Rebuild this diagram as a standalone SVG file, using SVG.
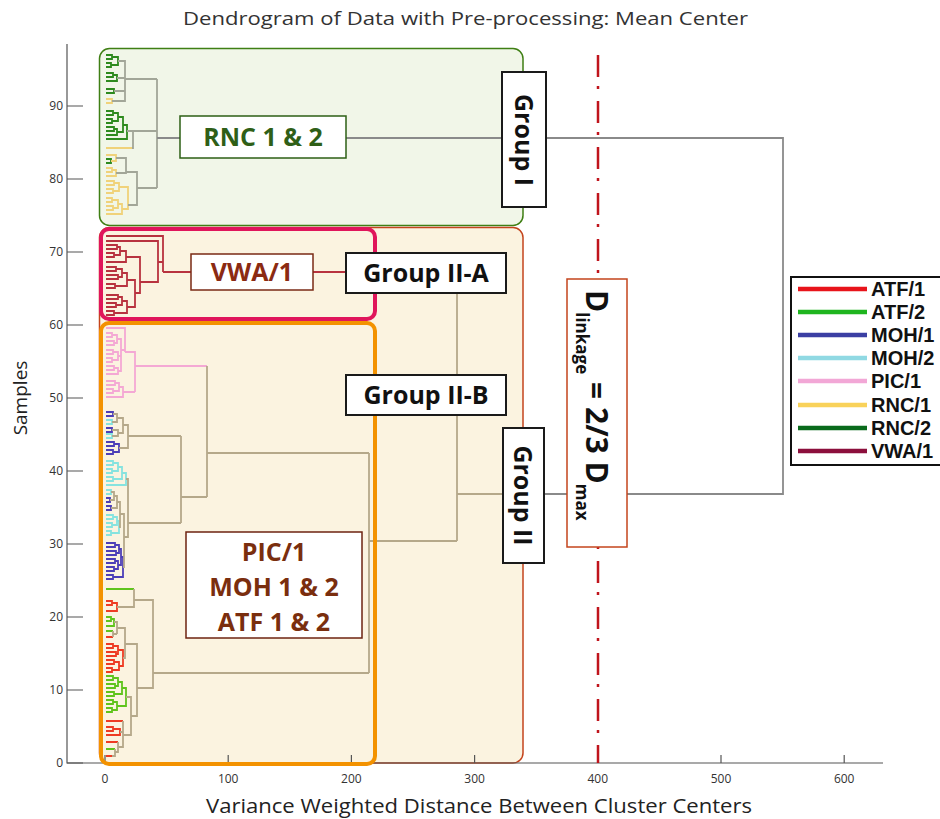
<svg xmlns="http://www.w3.org/2000/svg" width="940" height="819" viewBox="0 0 940 819">
  <style>
    text { font-family: "Open Sans", "Liberation Sans", sans-serif; }
    .axis { stroke: #555; stroke-width: 1.2; fill: none; }
    .tick { font-size: 12px; fill: #333; }
    .lbl { font-size: 25px; font-weight: bold; }
    .box { fill: #fff; stroke: #1a1a1a; stroke-width: 2; }
    #connectors path { fill: none; stroke-width: 1.8; }
    .g2 { stroke: #2e8a1e; }
    .y1 { stroke: #f0d27a; }
    .gr { stroke: #a2a698; }
    .top { stroke: #8a8a8a; }
    .vw { stroke: #b8323f; }
    .pk { stroke: #f4a8d4; }
    .bl { stroke: #4d3fb8; }
    .cy { stroke: #86e3df; }
    .tn { stroke: #b5a88a; }
    .ag { stroke: #5fc41c; }
    .ar { stroke: #ee3b23; }
    .leg line { stroke-width: 4.5; }
    .leg text { font-family: "Liberation Sans", Arial, sans-serif; font-size: 20px; font-weight: bold; fill: #111; }
  </style>

  <!-- cluster regions -->
  <g id="region-group-i">
    <rect x="99.5" y="48.5" width="423.5" height="177" rx="10" fill="#f1f6e8" stroke="#3f7f14" stroke-width="1.5"/>
  </g>
  <g id="region-group-ii">
    <rect x="99.5" y="227.5" width="423.5" height="535.5" rx="10" fill="#fbf3e0" stroke="#c4441c" stroke-width="1.5"/>
  </g>

  <!-- axes -->
  <g id="axes">
    <path class="axis" d="M67 44V763H883"/>
    <path class="axis" d="M67 763H83M67 690H83M67 617H83M67 544H83M67 471H83M67 398H83M67 325H83M67 252H83M67 179H83M67 106H83"/>
    <path class="axis" d="M105 763V755M228.2 763V755M351.4 763V755M474.6 763V755M597.8 763V755M721 763V755M844.2 763V755"/>
    <g class="tick" text-anchor="end">
      <text x="63" y="767">0</text>
      <text x="63" y="694">10</text>
      <text x="63" y="621">20</text>
      <text x="63" y="548">30</text>
      <text x="63" y="475">40</text>
      <text x="63" y="402">50</text>
      <text x="63" y="329">60</text>
      <text x="63" y="256">70</text>
      <text x="63" y="183">80</text>
      <text x="63" y="110">90</text>
    </g>
    <g class="tick" text-anchor="middle">
      <text x="105" y="783">0</text>
      <text x="228.2" y="783">100</text>
      <text x="351.4" y="783">200</text>
      <text x="474.6" y="783">300</text>
      <text x="597.8" y="783">400</text>
      <text x="721" y="783">500</text>
      <text x="844.2" y="783">600</text>
    </g>
    <text x="465.5" y="25" font-size="19" fill="#333" text-anchor="middle" textLength="565" lengthAdjust="spacingAndGlyphs">Dendrogram of Data with Pre-processing: Mean Center</text>
    <text x="479" y="813" font-size="20" fill="#222" text-anchor="middle" textLength="546" lengthAdjust="spacingAndGlyphs">Variance Weighted Distance Between Cluster Centers</text>
    <text transform="translate(27,398) rotate(-90)" font-size="19" fill="#222" text-anchor="middle">Samples</text>
  </g>

  <!-- dendrogram links -->
  <g id="connectors">
    <!-- Group I -->
    <path class="g2" d="M106 55H112V59H106M106 63H111V67H106M112 57H118V65H111M106 73H113V77H106M113 75H117V81H106M106 89H114V93H106M106 111H113V115H106M106 119H112V123H106M113 113H118V121H112M106 127H114V131H106M114 129H117V135H106M118 117H123V132H117M123 125H127V139H106M106 159H111V163H106"/>
    <path class="y1" d="M106 99H112V103H106M106 148H132M106 155H116V161H111M106 168H112V172H106M112 170H116V176H106M106 181H114V185H106M106 189H113V193H106M114 183H119V191H113M106 198H112V202H106M106 206H113V210H106M112 200H118V208H113M118 204H122V214H106M119 187H128V209H122"/>
    <path class="gr" d="M118 61H125V101H112M117 78H125M114 91H125M125 79H157M127 131H133V148H132M133 131H157M116 158H126V173H116M126 172H137V205H128M137 188H157M157 79V188"/>
    <path class="top" d="M157 138H783V494H503"/>
    <!-- VWA/1 -->
    <path class="vw" d="M106 245H117V249H106M106 253H114V257H106M117 247H120V255H114M120 251H126V262H106M106 267H116V271H106M106 275H118V279H106M116 269H122V277H118M106 284H115V288H106M122 273H127V286H115M106 295H118V299H106M106 303H116V307H106M118 297H122V305H116M106 311H114V315H106M122 301H127V313H114M127 280H135V307H127M126 257H140V293H135M106 241H158V282H140M106 236H163V272M158 262H163M163 272H350"/>
    <!-- PIC/1 -->
    <path class="pk" d="M106 328H125V352M106 333H112V337H106M106 341H114V345H106M112 335H117V343H114M106 350H113V354H106M106 358H112V362H106M113 352H118V360H112M106 366H114V370H106M114 368H118V374H106M117 339H121V371H118M118 356H121M121 350H125M125 352H135V392M106 381H115V385H106M106 389H113V393H106M115 383H119V391H113M119 387H123V397H106M123 392H135M135 366H207"/>
    <!-- MOH/1, MOH/2 -->
    <path class="bl" d="M106 412H113V416H106M106 428H112V432H106M106 442H114V446H106M106 450H113V454H106M114 444H119V452H113M106 498H110V502H106M106 506H111V510H106M106 543H115V547H106M106 551H116V555H106M115 545H119V553H116M106 559H115V563H106M106 567H114V571H106M115 561H118V569H114M119 549H121V565H118M106 575H113V579H106M121 557H123V577H113"/>
    <path class="cy" d="M106 420H112V424H106M106 434H112V438H106M106 461H113V465H106M106 469H112V473H106M113 463H118V471H112M106 477H113V481H106M118 467H122V479H113M122 473H126V485H106M106 490H111V494H106M106 515H113V519H106M106 523H112V527H106M113 517H117V525H112M106 531H111V535H106M117 521H119V533H111"/>
    <!-- ATF/1, ATF/2 -->
    <path class="ag" d="M106 589H134M106 617H111V621H106M111 619H114V626H106M106 631H113M106 676H113V680H106M106 684H115V688H106M113 678H118V686H115M106 692H114V696H106M118 682H122V694H114M106 700H113V704H106M106 708H112V712H106M113 702H117V710H112M122 688H126V706H117M106 749H115"/>
    <path class="ar" d="M106 601H112V605H106M112 603H117V611H106M106 637H113M106 644H113V648H106M106 652H116V656H106M113 646H118V654H116M106 660H114V664H106M106 668H112V672H106M114 662H119V670H112M118 650H123V666H119M106 721H123M106 727H113V731H106M113 729H120V735H106M106 742H118M106 756H112"/>
    <!-- upper Group II links -->
    <path class="tn" d="M113 414H117V422H112M112 430H118V436H112M117 418H123V433H118M123 425H128V448H119M128 436H181M111 492H114V500H110M114 496H117V508H111M117 502H120V527H119M120 514H124V567H123M126 479H128V537H124M128 523H181M181 436V523M181 497H207M207 366V497M207 453H369"/>
    <path class="tn" d="M117 607H134V589M134 600H153V688H137M113 631V637M113 634H117M114 622H117V634M117 628H125V658H123M125 644H137V716H131M126 697H131V735H123M112 756H115V749M115 752H118V742M123 721V747H118M120 732H123M153 673H369M369 453V673M369 541H457M457 273V541M457 494H503"/>
  </g>

  <!-- sub-cluster frames -->
  <g id="region-group-ii-a">
    <rect x="101" y="229" width="274" height="90" rx="8" fill="none" stroke="#e0155b" stroke-width="4"/>
  </g>
  <g id="region-group-ii-b">
    <rect x="101" y="323" width="274" height="441" rx="8" fill="none" stroke="#f39200" stroke-width="4"/>
  </g>

  <!-- linkage threshold -->
  <g id="threshold">
    <line x1="598" y1="45" x2="598" y2="763" stroke="#c0141c" stroke-width="2.5" stroke-dasharray="22 9 3 12" stroke-dashoffset="36"/>
  </g>

  <!-- labels -->
  <g id="rnc-label">
    <rect x="180" y="116" width="166" height="42" fill="#fff" stroke="#2d5f14" stroke-width="1.5"/>
    <text class="lbl" x="263" y="146" fill="#2f5f17" text-anchor="middle">RNC 1 &amp; 2</text>
  </g>
  <g id="vwa-label">
    <rect x="191" y="254" width="122" height="36" fill="#fff" stroke="#7a2a14" stroke-width="1.5"/>
    <text class="lbl" x="252" y="281" fill="#8b2a12" text-anchor="middle">VWA/1</text>
  </g>
  <g id="pic-label">
    <rect x="186" y="532" width="176" height="106" fill="#fff" stroke="#6e2310" stroke-width="1.5"/>
    <g class="lbl" fill="#7a2e0e" text-anchor="middle">
      <text x="274" y="561">PIC/1</text>
      <text x="274" y="596">MOH 1 &amp; 2</text>
      <text x="274" y="631">ATF 1 &amp; 2</text>
    </g>
  </g>
  <g id="group-i">
    <rect class="box" x="502" y="72" width="44" height="135"/>
    <text class="lbl" transform="translate(515,140) rotate(90)" fill="#111" text-anchor="middle">Group I</text>
  </g>
  <g id="group-ii-a">
    <rect class="box" x="346" y="253" width="160" height="40"/>
    <text class="lbl" x="426" y="282" fill="#111" text-anchor="middle">Group II-A</text>
  </g>
  <g id="group-ii-b">
    <rect class="box" x="346" y="375" width="160" height="40"/>
    <text class="lbl" x="426" y="404" fill="#111" text-anchor="middle">Group II-B</text>
  </g>
  <g id="group-ii">
    <rect class="box" x="503" y="428" width="41" height="135"/>
    <text class="lbl" transform="translate(514,495.5) rotate(90)" fill="#111" text-anchor="middle">Group II</text>
  </g>
  <g id="dlinkage">
    <rect x="567" y="279" width="60" height="268" fill="#fff" stroke="#c4441c" stroke-width="1.5"/>
    <text transform="translate(586,290) rotate(90)" fill="#111" font-weight="bold"><tspan font-size="30">D</tspan><tspan font-size="17" dy="10">linkage</tspan><tspan font-size="30" dy="-10"> = 2/3 D</tspan><tspan font-size="17" dy="10">max</tspan></text>
  </g>

  <!-- legend -->
  <g id="legend" class="leg">
    <rect x="791" y="277" width="160" height="188" fill="#fff" stroke="#111" stroke-width="2"/>
    <line x1="798" y1="289" x2="867" y2="289" stroke="#e8141b"/>
    <line x1="798" y1="312" x2="867" y2="312" stroke="#1fb51f"/>
    <line x1="798" y1="335" x2="867" y2="335" stroke="#3b3fa3"/>
    <line x1="798" y1="358" x2="867" y2="358" stroke="#90d9e3"/>
    <line x1="798" y1="381" x2="867" y2="381" stroke="#f2a7d6"/>
    <line x1="798" y1="405" x2="867" y2="405" stroke="#f9d25a"/>
    <line x1="798" y1="428" x2="867" y2="428" stroke="#0a6b1c"/>
    <line x1="798" y1="451" x2="867" y2="451" stroke="#8c0f3c"/>
    <text x="871" y="296">ATF/1</text>
    <text x="871" y="319">ATF/2</text>
    <text x="871" y="342">MOH/1</text>
    <text x="871" y="365">MOH/2</text>
    <text x="871" y="388">PIC/1</text>
    <text x="871" y="412">RNC/1</text>
    <text x="871" y="435">RNC/2</text>
    <text x="871" y="458">VWA/1</text>
  </g>
</svg>
